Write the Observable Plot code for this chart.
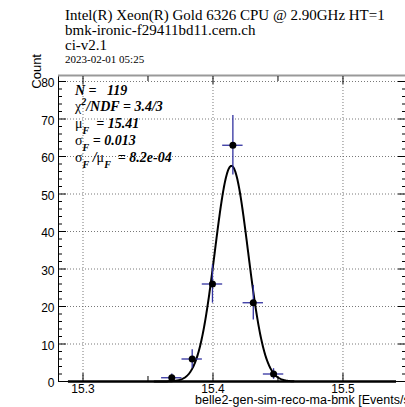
<!DOCTYPE html>
<html>
<head>
<meta charset="utf-8">
<script src="https://cdn.jsdelivr.net/npm/d3@7"></script>
<script src="https://cdn.jsdelivr.net/npm/@observablehq/plot@0.6"></script>
<style>
  html, body { margin: 0; padding: 0; background: #fff; }
  svg { display: block; }
</style>
</head>
<body>
<div id="chart"></div>
<script>
// ---- data ----
const binCenters = [15.3683, 15.3840, 15.3996, 15.4153, 15.4310, 15.4466];
const counts = [1, 6, 26, 63, 21, 2];
const binWidth = 0.0157;
const histRange = [15.2888, 15.5412];
// Gaussian fit parameters (amplitude, mean, sigma) and fit range
const fitParams = [57.5, 15.4142, 0.0127];
const fitRange = [15.355, 15.462];
const xMajorTicks = [15.3, 15.4, 15.5];
const xMinorTicks = [15.35, 15.45];
const yMajorTicks = [0, 10, 20, 30, 40, 50, 60, 70, 80];
const yMinorTicks = [2, 4, 6, 8, 12, 14, 16, 18, 22, 24, 26, 28, 32, 34, 36, 38, 42, 44, 46, 48, 52, 54, 56, 58, 62, 64, 66, 68, 72, 74, 76, 78];
const titleLines = [
  "Intel(R) Xeon(R) Gold 6326 CPU @ 2.90GHz HT=1",
  "bmk-ironic-f29411bd11.cern.ch",
  "ci-v2.1"
];
const dateLine = "2023-02-01 05:25";
const xTitle = "belle2-gen-sim-reco-ma-bmk [Events/s]";
const yTitle = "Count";
const statN = "119", statChi = "3.4/3", statMu = "15.41", statSigma = "0.013", statRatio = "8.2e-04";

const xDomain = [15.28115, 15.5481];
const yDomain = [0, 81.6];

const points = binCenters.map((x, i) => ({x, y: counts[i], e: Math.sqrt(counts[i])}));
const [A, mu, sg] = fitParams;
const curve = d3.range(0, 301).map(i => {
  const x = fitRange[0] + (fitRange[1] - fitRange[0]) * i / 300;
  return {x, y: A * Math.exp(-0.5 * ((x - mu) / sg) ** 2)};
});

const grid = {stroke: "#555", strokeDasharray: "1,2", strokeWidth: 0.8};
const blue = "#3232a0";

const svg = Plot.plot({
  width: 405, height: 407,
  marginLeft: 58, marginRight: 0, marginTop: 75, marginBottom: 26,
  x: {domain: xDomain},
  y: {domain: yDomain},
  style: {fontFamily: "Liberation Sans", fontSize: "12px", background: "#fff"},
  marks: [
    Plot.ruleX(xMajorTicks, grid),
    Plot.ruleY(yMajorTicks.filter(v => v > 0), grid),
    // frame
    Plot.ruleX([xDomain[0]], {stroke: "#000", strokeWidth: 1}),
    Plot.ruleY([0], {stroke: "#000", strokeWidth: 1}),
    Plot.ruleY([yDomain[1]], {stroke: "#999", strokeWidth: 2}),
    // ticks
    Plot.axisX({anchor: "bottom", ticks: xMajorTicks, tickSize: -8, tickFormat: () => "", label: null}),
    Plot.axisX({anchor: "bottom", ticks: xMinorTicks, tickSize: -5, tickFormat: () => "", label: null}),
    Plot.axisX({anchor: "top", ticks: xMajorTicks, tickSize: -8, tickFormat: () => "", label: null}),
    Plot.axisX({anchor: "top", ticks: xMinorTicks, tickSize: -5, tickFormat: () => "", label: null}),
    Plot.axisY({anchor: "left", ticks: yMajorTicks, tickSize: -8, tickFormat: () => "", label: null}),
    Plot.axisY({anchor: "left", ticks: yMinorTicks, tickSize: -4, tickFormat: () => "", label: null}),
    Plot.axisY({anchor: "right", ticks: yMajorTicks, tickSize: -8, tickFormat: () => "", label: null}),
    Plot.axisY({anchor: "right", ticks: yMinorTicks, tickSize: -4, tickFormat: () => "", label: null}),
    // tick labels
    Plot.axisX({anchor: "bottom", ticks: xMajorTicks, tickSize: 0, tickPadding: 3, tickFormat: d => d.toFixed(1), label: null, fontSize: 12, fill: "#000"}),
    Plot.axisY({anchor: "left", ticks: yMajorTicks, tickSize: 0, tickPadding: 4, tickFormat: d => String(d), label: null, fontSize: 12, fill: "#000", dy: 2}),
    // histogram baseline
    Plot.ruleY([0], {x1: histRange[0], x2: histRange[1], stroke: "#000", strokeWidth: 2.5}),
    // fit curve
    Plot.line(curve, {x: "x", y: "y", stroke: "#000", strokeWidth: 2}),
    // error bars
    Plot.ruleX(points, {x: "x", y1: d => d.y - d.e, y2: d => d.y + d.e, stroke: blue, strokeWidth: 1.3}),
    Plot.ruleY(points, {y: "y", x1: d => d.x - binWidth / 2, x2: d => d.x + binWidth / 2, stroke: blue, strokeWidth: 1.3}),
    Plot.dot(points, {x: "x", y: "y", r: 3.5, fill: "#000", stroke: "none"})
  ]
});

const s = d3.select(svg);
const serif = "Liberation Serif";
function txt(x, y) {
  return s.append("text").attr("x", x).attr("y", y).attr("text-anchor", "start").attr("fill", "#000");
}
// title
[20, 35, 50].forEach((yy, i) => {
  txt(65, yy).attr("font-family", serif).attr("font-size", 15).text(titleLines[i]);
});
txt(65, 63).attr("font-family", serif).attr("font-size", 11).text(dateLine);

// axis titles
txt(195, 404).attr("font-family", "Liberation Sans").attr("font-size", 12.5).text(xTitle);
s.append("text").attr("transform", "translate(41,54) rotate(-90)")
  .attr("text-anchor", "end").attr("fill", "#000")
  .attr("font-family", "Liberation Sans").attr("font-size", 13)
  .text(yTitle);

// stats box text
function statLine(y) {
  return txt(75, y)
    .attr("font-family", serif).attr("font-size", 14).attr("font-weight", "bold")
    .attr("font-style", "italic").attr("xml:space", "preserve")
    .style("white-space", "pre");
}
statLine(95).text("N =   " + statN);
{
  const t = statLine(111);
  t.append("tspan").attr("font-style", "normal").attr("font-weight", "normal").text("χ");
  t.append("tspan").attr("dy", -6).attr("font-size", 10).text("2");
  t.append("tspan").attr("dy", 6).text("/NDF = " + statChi);
}
function greekSub(t, g) {
  t.append("tspan").attr("font-style", "normal").attr("font-weight", "normal").text(g);
  t.append("tspan").attr("dy", 6).attr("font-size", 10).text("F");
  t.append("tspan").attr("dy", -6).text(" ");
}
{
  const t = statLine(128);
  greekSub(t, "μ");
  t.append("tspan").text(" = " + statMu);
}
{
  const t = statLine(145);
  greekSub(t, "σ");
  t.append("tspan").text("= " + statSigma);
}
{
  const t = statLine(162);
  greekSub(t, "σ");
  t.append("tspan").text("/");
  greekSub(t, "μ");
  t.append("tspan").text(" = " + statRatio);
}

document.getElementById("chart").appendChild(svg);
</script>
</body>
</html>
